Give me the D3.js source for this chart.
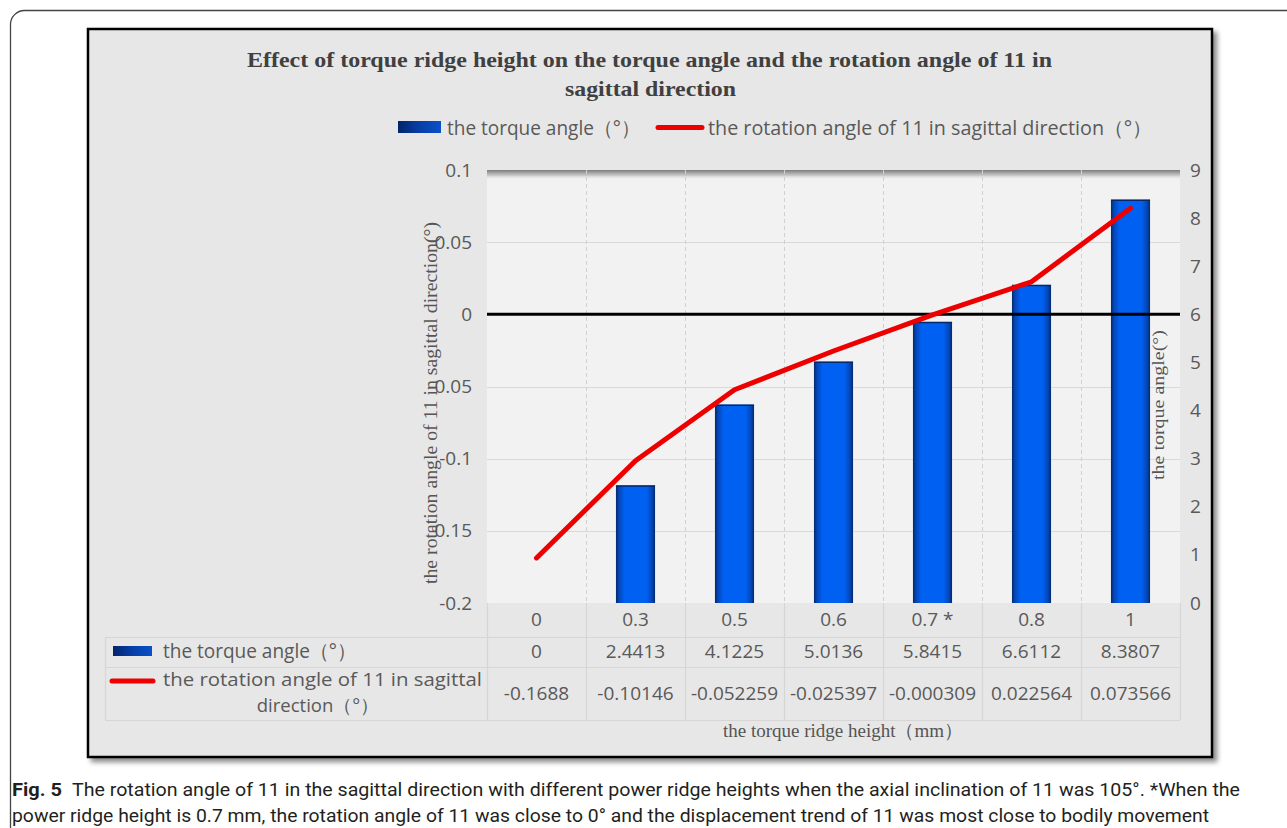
<!DOCTYPE html>
<html><head><meta charset="utf-8">
<script src="https://cdn.jsdelivr.net/npm/d3@7"></script>
<style>
body{margin:0;background:#fff;}
svg{display:block;}
</style></head>
<body>
<svg id="chart" width="1287" height="828"></svg>
<script>
// ---- data ----
const categories = ["0", "0.3", "0.5", "0.6", "0.7 *", "0.8", "1"];
const torqueAngle = [0, 2.4413, 4.1225, 5.0136, 5.8415, 6.6112, 8.3807];
const rotationAngle = [-0.1688, -0.10146, -0.052259, -0.025397, -0.000309, 0.022564, 0.073566];
const torqueLabels = ["0", "2.4413", "4.1225", "5.0136", "5.8415", "6.6112", "8.3807"];
const rotationLabels = ["-0.1688", "-0.10146", "-0.052259", "-0.025397", "-0.000309", "0.022564", "0.073566"];
const leftTicks = [0.1, 0.05, 0, -0.05, -0.1, -0.15, -0.2];
const leftTickLabels = ["0.1", "0.05", "0", "-0.05", "-0.1", "-0.15", "-0.2"];
const rightTicks = [0, 1, 2, 3, 4, 5, 6, 7, 8, 9];
const titleLines = ["Effect of torque ridge height on the torque angle and the rotation angle of 11 in", "sagittal direction"];
const seriesNames = ["the torque angle\uFF08°\uFF09", "the rotation angle of 11 in sagittal direction\uFF08°\uFF09"];
const tableRowLabel2 = ["the rotation angle of 11 in sagittal", "direction\uFF08°\uFF09"];
const leftAxisTitle = "the rotation angle of 11 in sagittal direction(°)";
const rightAxisTitle = "the torque angle(°)";
const xAxisTitle = "the torque ridge height\uFF08mm\uFF09";
const captionBold = "Fig. 5";
const captionLines = ["The rotation angle of 11 in the sagittal direction with different power ridge heights when the axial inclination of 11 was 105°. *When the",
  "power ridge height is 0.7 mm, the rotation angle of 11 was close to 0° and the displacement trend of 11 was most close to bodily movement"];

// ---- layout ----
const svg = d3.select("#chart");
const sans = "'Open Sans', 'Noto Sans', sans-serif";
const serif = "'Liberation Serif', 'DejaVu Serif', serif";
const grayText = "#595959";
const plot = {l: 487, r: 1180, t: 170, b: 603};

const defs = svg.append("defs");
const sh = defs.append("filter").attr("id", "shadow").attr("x", "-5%").attr("y", "-5%").attr("width", "110%").attr("height", "110%");
sh.append("feDropShadow").attr("dx", 4).attr("dy", 4).attr("stdDeviation", 2.5).attr("flood-color", "#000").attr("flood-opacity", 0.45);

const barGrad = defs.append("linearGradient").attr("id", "barGrad").attr("x1", 0).attr("x2", 1).attr("y1", 0).attr("y2", 0);
[[0, "#03296a"], [0.08, "#0446b8"], [0.22, "#0060f2"], [0.78, "#0060f2"], [0.92, "#0446b8"], [1, "#03296a"]]
  .forEach(([o, c]) => barGrad.append("stop").attr("offset", o).attr("stop-color", c));
const keyGrad = defs.append("linearGradient").attr("id", "keyGrad").attr("x1", 0).attr("x2", 1).attr("y1", 0).attr("y2", 0);
[[0, "#03246a"], [0.5, "#063fa8"], [1, "#0a50c8"]]
  .forEach(([o, c]) => keyGrad.append("stop").attr("offset", o).attr("stop-color", c));
const topShade = defs.append("linearGradient").attr("id", "topShade").attr("x1", 0).attr("x2", 0).attr("y1", 0).attr("y2", 1);
[[0, "#7a7a7a", 1], [0.5, "#b5b5b5", 0.8], [1, "#f2f2f2", 0]]
  .forEach(([o, c, op]) => topShade.append("stop").attr("offset", o).attr("stop-color", c).attr("stop-opacity", op));

// outer page frame
svg.append("rect").attr("x", 10.5).attr("y", 10.5).attr("width", 1320).attr("height", 900)
  .attr("rx", 14).attr("fill", "none").attr("stroke", "#444").attr("stroke-width", 1.3);

// chart box
svg.append("rect").attr("x", 88).attr("y", 29).attr("width", 1124).attr("height", 728)
  .attr("fill", "#e7e7e7").attr("stroke", "#000").attr("stroke-width", 2.5).attr("filter", "url(#shadow)");

// title
titleLines.forEach((t, i) => {
  svg.append("text").attr("x", i === 0 ? 247 : 565).attr("y", i === 0 ? 67 : 96)
    .attr("textLength", i === 0 ? 805 : 171).attr("lengthAdjust", "spacingAndGlyphs")
    .style("font-family", serif).style("font-weight", "bold").style("font-size", "22px")
    .attr("fill", "#404040").text(t);
});

// legend
svg.append("rect").attr("x", 398).attr("y", 121).attr("width", 43).attr("height", 12).attr("fill", "url(#keyGrad)");
svg.append("text").attr("x", 447).attr("y", 135).attr("textLength", 193).attr("lengthAdjust", "spacingAndGlyphs")
  .style("font-family", sans).style("font-size", "20px").attr("fill", grayText).text(seriesNames[0]);
svg.append("line").attr("x1", 658).attr("x2", 702).attr("y1", 127.5).attr("y2", 127.5)
  .attr("stroke", "#ee0000").attr("stroke-width", 5).attr("stroke-linecap", "round");
svg.append("text").attr("x", 708).attr("y", 135).attr("textLength", 444).attr("lengthAdjust", "spacingAndGlyphs")
  .style("font-family", sans).style("font-size", "20px").attr("fill", grayText).text(seriesNames[1]);

// scales
const x = d3.scaleBand().domain(categories).range([plot.l, plot.r]).padding(0);
const yL = d3.scaleLinear().domain([-0.2, 0.1]).range([plot.b, plot.t]);
const yR = d3.scaleLinear().domain([0, 9]).range([plot.b, plot.t]);

// plot area
svg.append("rect").attr("x", plot.l).attr("y", plot.t).attr("width", plot.r - plot.l).attr("height", plot.b - plot.t).attr("fill", "#f2f2f2");
svg.append("rect").attr("x", plot.l).attr("y", plot.t).attr("width", plot.r - plot.l).attr("height", 10).attr("fill", "url(#topShade)");

// horizontal gridlines
svg.append("g").selectAll("line").data(leftTicks.filter(v => v !== 0 && v !== 0.1 && v !== -0.2)).join("line")
  .attr("x1", plot.l).attr("x2", plot.r).attr("y1", d => Math.round(yL(d)) + 0.5).attr("y2", d => Math.round(yL(d)) + 0.5)
  .attr("stroke", "#d9d9d9").attr("stroke-width", 1.2);

// vertical dashed gridlines
const bounds = categories.slice(1).map(c => x(c));
svg.append("g").selectAll("line").data(bounds).join("line")
  .attr("x1", d => Math.round(d) + 0.5).attr("x2", d => Math.round(d) + 0.5).attr("y1", plot.t).attr("y2", plot.b)
  .attr("stroke", "#d0d0d0").attr("stroke-width", 1).attr("stroke-dasharray", "4,3");

// bars (right axis)
const bw = x.bandwidth() * 0.395;
svg.append("g").selectAll("rect").data(categories.map((c, i) => ({c, v: torqueAngle[i]}))).join("rect")
  .attr("x", d => x(d.c) + (x.bandwidth() - bw) / 2).attr("width", bw)
  .attr("y", d => yR(d.v)).attr("height", d => yR(0) - yR(d.v))
  .attr("fill", "url(#barGrad)");
svg.append("g").selectAll("line").data(categories.map((c, i) => ({c, v: torqueAngle[i]})).filter(d => d.v > 0)).join("line")
  .attr("x1", d => x(d.c) + (x.bandwidth() - bw) / 2).attr("x2", d => x(d.c) + (x.bandwidth() + bw) / 2)
  .attr("y1", d => yR(d.v) + 0.5).attr("y2", d => yR(d.v) + 0.5).attr("stroke", "#03296a").attr("stroke-width", 1.5);

// zero line
svg.append("line").attr("x1", plot.l).attr("x2", plot.r).attr("y1", yL(0)).attr("y2", yL(0))
  .attr("stroke", "#000").attr("stroke-width", 3);

// rotation line (left axis)
const line = d3.line().x((d, i) => x(categories[i]) + x.bandwidth() / 2).y(d => yL(d));
svg.append("path").datum(rotationAngle).attr("d", line).attr("fill", "none")
  .attr("stroke", "#ee0000").attr("stroke-width", 5).attr("stroke-linecap", "round").attr("stroke-linejoin", "round");

// left axis
const gL = svg.append("g").attr("transform", `translate(${plot.l},0)`)
  .call(d3.axisLeft(yL).tickValues(leftTicks).tickSize(0).tickPadding(15).tickFormat((d, i) => leftTickLabels[i]));
gL.select(".domain").remove();
gL.selectAll("text").style("font-family", sans).style("font-size", "19px").attr("fill", grayText);

// right axis
const gR = svg.append("g").attr("transform", `translate(${plot.r},0)`)
  .call(d3.axisRight(yR).tickValues(rightTicks).tickSize(0).tickPadding(10).tickFormat(d3.format("d")));
gR.select(".domain").remove();
gR.selectAll("text").style("font-family", sans).style("font-size", "19px").attr("fill", grayText);

// axis titles
svg.append("text").attr("transform", "translate(437,403) rotate(-90)").attr("text-anchor", "middle")
  .attr("textLength", 362).attr("lengthAdjust", "spacingAndGlyphs")
  .style("font-family", serif).style("font-size", "18px").attr("fill", "#555").text(leftAxisTitle);
svg.append("text").attr("transform", "translate(1164,405) rotate(-90)").attr("text-anchor", "middle")
  .attr("textLength", 150).attr("lengthAdjust", "spacingAndGlyphs")
  .style("font-family", serif).style("font-size", "17px").attr("fill", "#555").text(rightAxisTitle);

// data table lines
const tableLines = svg.append("g").attr("stroke", "#d6d6d6").attr("stroke-width", 1.2);
[plot.l, ...bounds, plot.r].forEach(bx => {
  tableLines.append("line").attr("x1", Math.round(bx) + 0.5).attr("x2", Math.round(bx) + 0.5).attr("y1", plot.b).attr("y2", 720);
});
[637, 667, 720].forEach(ty => {
  tableLines.append("line").attr("x1", 105).attr("x2", plot.r).attr("y1", ty + 0.5).attr("y2", ty + 0.5);
});
tableLines.append("line").attr("x1", 105.5).attr("x2", 105.5).attr("y1", 637).attr("y2", 720);

// category axis
const gX = svg.append("g").attr("transform", `translate(0,${plot.b})`)
  .call(d3.axisBottom(x).tickSize(0).tickPadding(10));
gX.select(".domain").remove();
gX.selectAll("text").style("font-family", sans).style("font-size", "19px").attr("fill", grayText);

// table rows
svg.append("rect").attr("x", 113).attr("y", 646).attr("width", 39).attr("height", 10).attr("fill", "url(#keyGrad)");
svg.append("text").attr("x", 163).attr("y", 658).attr("textLength", 193).attr("lengthAdjust", "spacingAndGlyphs")
  .style("font-family", sans).style("font-size", "20px").attr("fill", grayText).text(seriesNames[0]);
svg.append("line").attr("x1", 112).attr("x2", 153).attr("y1", 681).attr("y2", 681)
  .attr("stroke", "#ee0000").attr("stroke-width", 5).attr("stroke-linecap", "round");
svg.append("text").attr("x", 163).attr("y", 686).attr("textLength", 319).attr("lengthAdjust", "spacingAndGlyphs")
  .style("font-family", sans).style("font-size", "18.5px").attr("fill", grayText).text(tableRowLabel2[0]);
svg.append("text").attr("x", 318).attr("y", 712).attr("text-anchor", "middle")
  .style("font-family", sans).style("font-size", "18.5px").attr("fill", grayText).text(tableRowLabel2[1]);

svg.append("g").selectAll("text").data(torqueLabels).join("text")
  .attr("x", (d, i) => x(categories[i]) + x.bandwidth() / 2).attr("y", 658).attr("text-anchor", "middle")
  .style("font-family", sans).style("font-size", "19px").attr("fill", grayText).text(d => d);
svg.append("g").selectAll("text").data(rotationLabels).join("text")
  .attr("x", (d, i) => x(categories[i]) + x.bandwidth() / 2).attr("y", 700).attr("text-anchor", "middle")
  .style("font-family", sans).style("font-size", "19px").attr("fill", grayText).text(d => d);

// x axis title
svg.append("text").attr("x", 843).attr("y", 737).attr("text-anchor", "middle")
  .style("font-family", serif).style("font-size", "19px").attr("fill", "#555").text(xAxisTitle);

// caption
const capFont = "'Liberation Sans Narrow', 'Roboto', 'Noto Sans', sans-serif";
svg.append("text").attr("x", 12).attr("y", 796).attr("textLength", 50).attr("lengthAdjust", "spacingAndGlyphs")
  .style("font-family", capFont).style("font-size", "19px").style("font-weight", "bold").attr("fill", "#231f20").text(captionBold);
svg.append("text").attr("x", 72).attr("y", 796).attr("textLength", 1168).attr("lengthAdjust", "spacingAndGlyphs")
  .style("font-family", capFont).style("font-size", "19px").attr("fill", "#231f20").text(captionLines[0]);
svg.append("text").attr("x", 12).attr("y", 822).attr("textLength", 1197).attr("lengthAdjust", "spacingAndGlyphs")
  .style("font-family", capFont).style("font-size", "18px").attr("fill", "#231f20").text(captionLines[1]);
</script>
</body></html>
